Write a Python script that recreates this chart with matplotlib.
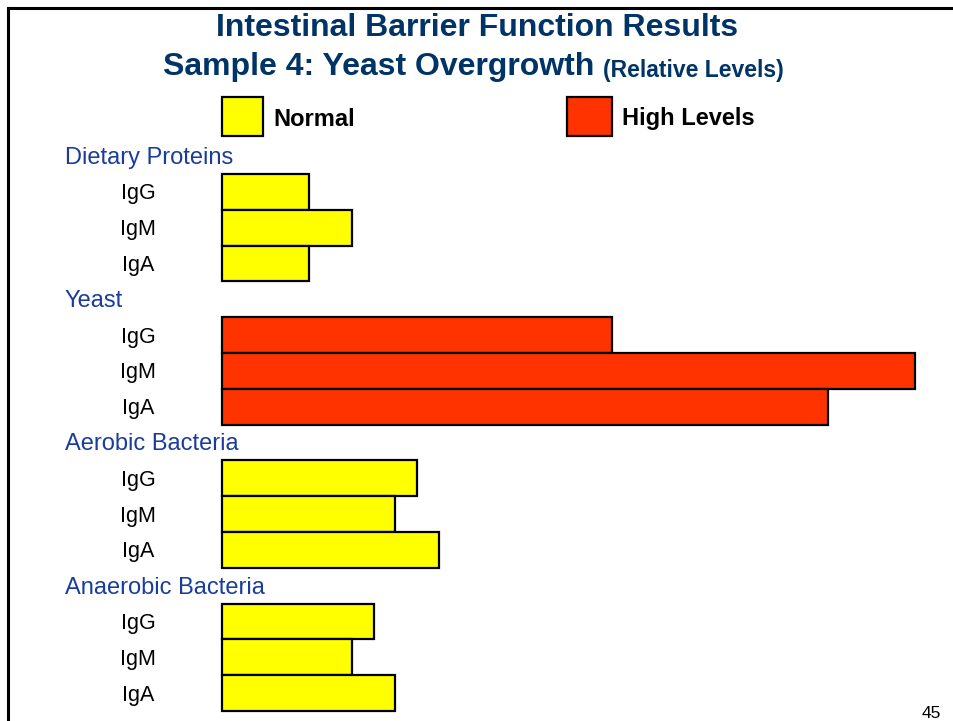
import matplotlib.pyplot as plt
import matplotlib.transforms as mtransforms
from matplotlib.lines import Line2D
from matplotlib.patches import Rectangle

plt.rcParams["font.family"] = ["Liberation Sans", "DejaVu Sans"]

groups = ["Dietary Proteins", "Yeast", "Aerobic Bacteria", "Anaerobic Bacteria"]
antibodies = ["IgG", "IgM", "IgA"]
levels = [
    [4, 6, 4],
    [18, 32, 28],
    [9, 8, 10],
    [7, 6, 8],
]
high_group = [False, True, False, False]

YELLOW = "#FFFF00"
RED = "#FF3300"
NAVY = "#003366"
BLUE = "#1a3c9c"

W, H = 954, 721
fig = plt.figure(figsize=(W / 100, H / 100), dpi=100)

# bar area: left edge at x=222 px, rows from y=138 to 711 px
px_per_unit = 21.66
ax = fig.add_axes([222 / W, 1 - 711 / H, (W - 222) / W, (711 - 138.1) / H])
ax.set_xlim(0, (W - 222) / px_per_unit)
ax.set_ylim(15.5, -0.5)
ax.axis("off")

# labels: x in figure fraction, y in rows, nudged down a couple of pixels
trans = mtransforms.blended_transform_factory(fig.transFigure, ax.transData)
trans = mtransforms.offset_copy(trans, fig=fig, y=-2, units="dots")

row = 0
for g, name in enumerate(groups):
    ax.text(65 / W, row, name, transform=trans, ha="left", va="center",
            fontsize=17, color=BLUE)
    row += 1
    color = RED if high_group[g] else YELLOW
    for a, ab in enumerate(antibodies):
        ax.barh(row, levels[g][a], height=1.0, left=0, color=color,
                edgecolor="black", linewidth=1.6, clip_on=False)
        ax.text(138 / W, row, ab, transform=trans, ha="center", va="center",
                fontsize=15.5, color="black")
        row += 1

# title
fig.text(0.5, 1 - 28 / H, "Intestinal Barrier Function Results", ha="center",
         va="center", fontsize=23, fontweight="bold", color=NAVY)
t2 = fig.text(163 / W, 1 - 67 / H, "Sample 4: Yeast Overgrowth ", ha="left",
              va="center", fontsize=23, fontweight="bold", color=NAVY)
fig.canvas.draw()
bb = t2.get_window_extent()
fig.text(bb.x1 / W, 1 - 70 / H, "(Relative Levels)", ha="left", va="center",
         fontsize=16.5, fontweight="bold", color=NAVY)

# legend
fig.add_artist(Rectangle((222 / W, 1 - 136 / H), 41 / W, 39 / H,
                         transform=fig.transFigure, facecolor=YELLOW,
                         edgecolor="black", linewidth=1.6))
fig.text(273 / W, 1 - 119 / H, "Normal", ha="left", va="center",
         fontsize=17, fontweight="bold", color="black")
fig.add_artist(Rectangle((567 / W, 1 - 136 / H), 45 / W, 39 / H,
                         transform=fig.transFigure, facecolor=RED,
                         edgecolor="black", linewidth=1.6))
fig.text(622 / W, 1 - 119 / H, "High Levels", ha="left", va="center",
         fontsize=17, fontweight="bold", color="black")

# slide frame and page number
fig.add_artist(Line2D([8 / W, 8 / W], [0, 1 - 8 / H], transform=fig.transFigure,
                      color="black", linewidth=2.2))
fig.add_artist(Line2D([8 / W, 1], [1 - 8 / H, 1 - 8 / H], transform=fig.transFigure,
                      color="black", linewidth=2.2))
fig.text(931 / W, 1 - 713 / H, "45", ha="center", va="center", fontsize=12.5)

fig.savefig("out.png", dpi=100)
